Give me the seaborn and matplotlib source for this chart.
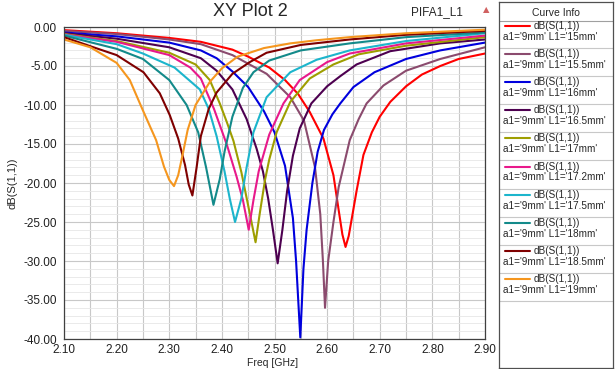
import numpy as np
import pandas as pd
import matplotlib
matplotlib.use("Agg")
import matplotlib.pyplot as plt
import seaborn as sns
from matplotlib.ticker import MultipleLocator, FormatStrFormatter

# L1 sweep (a1 fixed at 9mm) and curve colours
l1_values = ["15", "15.5", "16", "16.5", "17", "17.2", "17.5", "18", "18.5", "19"]
colors = ["#FF0000", "#8B4B6E", "#0000DD", "#4D0050", "#9E9E00",
          "#E8198B", "#1CB5CC", "#138A8A", "#7F0000", "#F5961E"]

# dB(S(1,1)), one curve per L1 value
freq_15 = [2.10, 2.20, 2.30, 2.36, 2.42, 2.45, 2.49, 2.52, 2.545, 2.567, 2.593, 2.612, 2.622,
           2.629, 2.635, 2.641, 2.647, 2.656, 2.669, 2.685, 2.70, 2.72, 2.75, 2.78, 2.815,
           2.85, 2.90]
s11_15 = [-0.4, -0.8, -1.4, -1.9, -2.9, -3.8, -5.2, -6.8, -8.6, -10.9, -14.3, -19.0, -23.5,
          -26.6, -28.2, -26.8, -24.5, -21.0, -16.4, -13.5, -11.5, -9.6, -7.6, -6.1, -5.0,
          -4.1, -3.4]

freq_155 = [2.10, 2.20, 2.30, 2.36, 2.42, 2.485, 2.53, 2.556, 2.577, 2.587, 2.592, 2.596,
            2.602, 2.612, 2.622, 2.643, 2.66, 2.675, 2.707, 2.75, 2.815, 2.90]
s11_155 = [-0.5, -0.9, -1.6, -2.2, -3.6, -6.0, -9.0, -12.0, -18.0, -24.0, -30.0, -36.0,
           -30.0, -25.0, -20.5, -14.5, -11.8, -9.8, -7.5, -5.6, -4.1, -2.6]

freq_16 = [2.10, 2.20, 2.30, 2.36, 2.39, 2.42, 2.45, 2.48, 2.50, 2.52, 2.535, 2.541, 2.549,
           2.555, 2.561, 2.572, 2.582, 2.594, 2.61, 2.625, 2.65, 2.69, 2.75, 2.815, 2.90]
s11_16 = [-0.7, -1.2, -2.0, -3.0, -4.0, -5.7, -7.7, -10.8, -13.5, -17.8, -24.5, -30.0, -39.8,
          -31.0, -26.0, -20.0, -16.0, -13.2, -11.2, -9.8, -7.7, -5.8, -4.1, -3.0, -2.0]

freq_165 = [2.10, 2.20, 2.30, 2.36, 2.39, 2.42, 2.447, 2.466, 2.478, 2.488, 2.497, 2.506,
            2.515, 2.524, 2.535, 2.548, 2.57, 2.60, 2.625, 2.656, 2.72, 2.815, 2.90]
s11_165 = [-0.8, -1.5, -2.6, -4.0, -5.6, -8.0, -11.8, -15.6, -18.5, -22.0, -26.0, -30.3,
           -26.0, -21.0, -16.5, -13.0, -9.8, -7.6, -6.3, -4.8, -3.1, -2.1, -1.6]

freq_17 = [2.10, 2.20, 2.30, 2.35, 2.377, 2.396, 2.41, 2.422, 2.437, 2.453, 2.464, 2.472,
           2.482, 2.49, 2.504, 2.53, 2.567, 2.612, 2.66, 2.75, 2.90]
s11_17 = [-0.9, -1.8, -3.3, -4.8, -6.8, -9.8, -12.3, -14.6, -18.6, -23.9, -27.6, -23.9,
          -19.6, -17.0, -13.5, -9.6, -6.6, -4.8, -3.5, -2.4, -1.3]

freq_172 = [2.10, 2.20, 2.30, 2.34, 2.36, 2.385, 2.41, 2.428, 2.44, 2.451, 2.46, 2.47,
            2.49, 2.517, 2.548, 2.60, 2.643, 2.75, 2.90]
s11_172 = [-0.95, -1.9, -3.6, -5.2, -6.6, -10.5, -15.2, -19.2, -22.2, -26.0, -22.2, -18.5,
           -13.8, -9.8, -6.8, -4.5, -3.4, -2.1, -1.1]

freq_175 = [2.10, 2.20, 2.25, 2.31, 2.358, 2.375, 2.39, 2.405, 2.415, 2.425, 2.437, 2.447,
            2.46, 2.485, 2.53, 2.58, 2.643, 2.75, 2.90]
s11_175 = [-1.0, -2.2, -3.4, -5.2, -8.0, -10.5, -14.0, -18.5, -22.0, -25.0, -22.0, -18.0,
           -13.5, -9.0, -5.8, -4.2, -3.0, -1.8, -0.8]

freq_18 = [2.10, 2.20, 2.25, 2.30, 2.333, 2.355, 2.37, 2.384, 2.396, 2.405, 2.42, 2.44,
           2.46, 2.49, 2.55, 2.643, 2.75, 2.90]
s11_18 = [-1.1, -2.8, -4.1, -6.8, -10.0, -13.5, -18.0, -22.8, -19.5, -16.0, -11.5, -7.8,
          -5.8, -4.3, -3.0, -2.1, -1.3, -0.7]

freq_185 = [2.10, 2.156, 2.20, 2.251, 2.282, 2.301, 2.317, 2.33, 2.337, 2.344, 2.352, 2.36,
            2.375, 2.39, 2.42, 2.453, 2.485, 2.55, 2.643, 2.75, 2.90]
s11_185 = [-1.3, -2.6, -3.6, -5.8, -8.5, -11.3, -14.3, -17.7, -20.2, -21.6, -18.0, -14.0,
           -10.5, -8.4, -6.0, -4.5, -3.3, -2.3, -1.6, -1.0, -0.5]

freq_19 = [2.10, 2.15, 2.20, 2.225, 2.25, 2.275, 2.29, 2.30, 2.309, 2.317, 2.325, 2.335,
           2.35, 2.3775, 2.40, 2.43, 2.48, 2.53, 2.58, 2.643, 2.75, 2.90]
s11_19 = [-1.6, -2.6, -4.6, -6.8, -10.7, -14.5, -17.9, -19.6, -20.4, -19.0, -16.5, -13.2,
          -10.0, -7.0, -5.3, -3.8, -2.7, -2.1, -1.7, -1.3, -0.8, -0.35]

curves = [(freq_15, s11_15), (freq_155, s11_155), (freq_16, s11_16), (freq_165, s11_165),
          (freq_17, s11_17), (freq_172, s11_172), (freq_175, s11_175), (freq_18, s11_18),
          (freq_185, s11_185), (freq_19, s11_19)]

labels = [f"a1='9mm' L1='{v}mm'" for v in l1_values]
frames = []
for lab, (f, s) in zip(labels, curves):
    frames.append(pd.DataFrame({"freq": f, "s11": s, "curve": lab}))
df = pd.concat(frames, ignore_index=True)

sns.set_style("white")
plt.rcParams["font.family"] = ["Liberation Sans", "DejaVu Sans"]

W, H = 615, 369
fig = plt.figure(figsize=(W / 100, H / 100), dpi=100)
ax = fig.add_axes([64 / W, 1 - 339 / H, (485 - 64) / W, (339 - 27) / H])

sns.lineplot(data=df, x="freq", y="s11", hue="curve", hue_order=labels,
             palette=colors, estimator=None, sort=False, linewidth=1.5,
             legend=False, ax=ax)

ax.set_xlim(2.10, 2.90)
ax.set_ylim(-40, 0)
ax.xaxis.set_major_locator(MultipleLocator(0.1))
ax.xaxis.set_minor_locator(MultipleLocator(0.05))
ax.yaxis.set_major_locator(MultipleLocator(5))
ax.yaxis.set_minor_locator(MultipleLocator(1))
ax.xaxis.set_major_formatter(FormatStrFormatter("%.2f"))
ax.yaxis.set_major_formatter(FormatStrFormatter("%.2f"))
ax.grid(which="major", color="#C8C8C8", linewidth=0.8)
ax.grid(which="minor", axis="x", color="#C8C8C8", linewidth=0.8)
ax.grid(which="minor", axis="y", color="#E6E6E6", linewidth=0.6)
ax.set_axisbelow(True)
ax.tick_params(which="major", direction="out", length=4, width=0.8, labelsize=8.5,
               colors="#202020", pad=1)
ax.tick_params(axis="x", which="major", length=3, pad=0.5)
ax.tick_params(which="minor", direction="out", length=2.5, width=0.6, colors="#202020")
for sp in ax.spines.values():
    sp.set_color("#404040")
    sp.set_linewidth(0.9)
ax.set_xlabel("")
ax.set_ylabel("")

fig.text(273 / W, 1 - 363 / H, "Freq [GHz]", ha="center", va="center", fontsize=7.5)
fig.text(12 / W, 1 - 183 / H, "dB(S(1,1))", ha="center", va="center", rotation=90,
         fontsize=8)
fig.text(250 / W, 1 - 12 / H, "XY Plot 2", ha="center", va="center", fontsize=13)
fig.text(437 / W, 1 - 12 / H, "PIFA1_L1", ha="center", va="center", fontsize=8.5)
fig.text(486 / W, 1 - 10 / H, "\u25b2", ha="center", va="center", fontsize=6,
         color="#D06060", family="DejaVu Sans")

# "Curve Info" panel
lg = fig.add_axes([499 / W, 1 / H, 114 / W, 366 / H])
lg.set_xlim(0, 114)
lg.set_ylim(366, 0)
lg.set_xticks([])
lg.set_yticks([])
for sp in lg.spines.values():
    sp.set_color("#505050")
    sp.set_linewidth(0.9)
lg.text(57, 11, "Curve Info", ha="center", va="center", fontsize=7.5)
lg.axhline(18.5, color="#A0A0A0", linewidth=0.8)
step = 28.1
for i, (lab, col) in enumerate(zip(labels, colors)):
    y1 = 24 + step * i
    lg.plot([6, 31], [y1, y1], color=col, linewidth=1.5)
    lg.text(35, y1, "dB(S(1,1))", ha="left", va="center", fontsize=7.2)
    lg.text(4, y1 + 11, lab, ha="left", va="center", fontsize=7.2)
    lg.axhline(y1 + 22, color="#C8C8C8", linewidth=0.8)

fig.savefig("out.png", dpi=100)
